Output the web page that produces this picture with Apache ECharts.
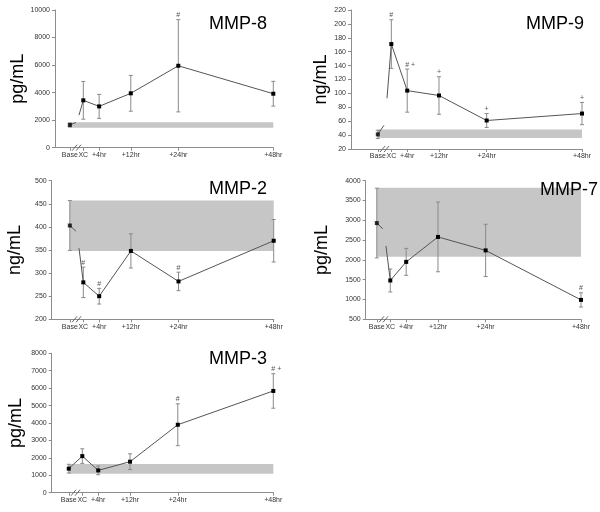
<!DOCTYPE html>
<html><head><meta charset="utf-8">
<script src="https://cdn.jsdelivr.net/npm/echarts@6/dist/echarts.min.js"></script>
<style>html,body{margin:0;padding:0;background:#fff}#c{width:600px;height:512px}</style>
</head><body><div id="c"></div>
<script>
// ---- data ----
const xLabels = ['Base', 'XC', '+4hr', '+12hr', '+24hr', '+48hr'];
const timePoints = [-3.4, 0, 4, 12, 24, 48];

const panelNames = ['MMP-8', 'MMP-9', 'MMP-2', 'MMP-7', 'MMP-3'];
const panelUnits = ['pg/mL', 'ng/mL', 'ng/mL', 'pg/mL', 'pg/mL'];

const mmp8Mean = [1650, 3440, 3000, 3950, 5950, 3920];
const mmp8Err  = [150, 1370, 870, 1300, 3350, 900];
const mmp8Sig  = ['', '', '', '', '#', ''];
const mmp8Band = [1450, 1850];

const mmp9Mean = [41, 171, 104, 97, 61, 71];
const mmp9Err  = [6, 35, 31, 27, 10, 16];
const mmp9Sig  = ['', '#', '# +', '+', '+', '+'];
const mmp9Band = [36, 48];

const mmp2Mean = [403, 280, 250, 348, 282, 370];
const mmp2Err  = [54, 33, 17, 37, 20, 46];
const mmp2Sig  = ['', '#', '#', '', '#', ''];
const mmp2Band = [348, 457];

const mmp7Mean = [2930, 1480, 1950, 2580, 2240, 990];
const mmp7Err  = [880, 290, 340, 880, 660, 180];
const mmp7Sig  = ['', '', '', '', '', '#'];
const mmp7Band = [2080, 3820];

const mmp3Mean = [1380, 2100, 1280, 1780, 3900, 5840];
const mmp3Err  = [250, 420, 250, 450, 1200, 990];
const mmp3Sig  = ['', '', '', '', '#', '# +'];
const mmp3Band = [1090, 1650];

const yTicks8 = [0, 10000, 2000];
const yTicks9 = [20, 220, 20];
const yTicks2 = [200, 500, 50];
const yTicks7 = [500, 4000, 500];
const yTicks3 = [0, 8000, 1000];

// ---- layout ----
const panels = [
  {mean: mmp8Mean, err: mmp8Err, sig: mmp8Sig, band: mmp8Band, yt: yTicks8, broken: true,
   grid: {left: 55, top: 10, width: 218.3, height: 137.7}, xmin: -7.15, nameGap: 28, title: [209, 15]},
  {mean: mmp9Mean, err: mmp9Err, sig: mmp9Sig, band: mmp9Band, yt: yTicks9, broken: true,
   grid: {left: 351, top: 10, width: 231, height: 139}, xmin: -10.15, nameGap: 15, title: [526, 15]},
  {mean: mmp2Mean, err: mmp2Err, sig: mmp2Sig, band: mmp2Band, yt: yTicks2, broken: true,
   grid: {left: 51.7, top: 180.7, width: 222, height: 138.6}, xmin: -7.97, nameGap: 27.5, title: [209, 180.5]},
  {mean: mmp7Mean, err: mmp7Err, sig: mmp7Sig, band: mmp7Band, yt: yTicks7, broken: true,
   grid: {left: 365.7, top: 180.7, width: 215.3, height: 138.6}, xmin: -6.19, nameGap: 34.5, title: [540, 181.5]},
  {mean: mmp3Mean, err: mmp3Err, sig: mmp3Sig, band: mmp3Band, yt: yTicks3, broken: false,
   grid: {left: 51.7, top: 353.3, width: 221.6, height: 139.4}, xmin: -7.69, nameGap: 26.5, title: [209, 350.5]}
];

const FONT = "'Liberation Sans', Arial, sans-serif";
const AXIS_COLOR = '#8c8c8c';
const grids = [], xAxes = [], yAxes = [], series = [], titles = [];

panels.forEach((p, i) => {
  grids.push(Object.assign({containLabel: false}, p.grid));
  titles.push({text: panelNames[i], left: p.title[0], top: p.title[1],
    textStyle: {fontFamily: FONT, fontSize: 18, fontWeight: 'normal', color: '#000', lineHeight: 18}, padding: 0});
  xAxes.push({
    type: 'value', gridIndex: i, min: p.xmin, max: 48,
    axisLine: {show: true, onZero: false, lineStyle: {color: AXIS_COLOR, width: 1}},
    axisTick: {show: true, length: 3, customValues: timePoints, lineStyle: {color: AXIS_COLOR}},
    axisLabel: {show: true, customValues: timePoints, fontFamily: FONT, fontSize: 7, color: '#333', margin: 4,
      formatter: v => { const k = timePoints.findIndex(t => Math.abs(t - v) < 1e-6); return k >= 0 ? xLabels[k] : ''; }},
    splitLine: {show: false}
  });
  yAxes.push({
    type: 'value', gridIndex: i, min: p.yt[0], max: p.yt[1], interval: p.yt[2],
    name: panelUnits[i], nameLocation: 'middle', nameRotate: 90, nameGap: p.nameGap,
    nameTextStyle: {fontFamily: FONT, fontSize: 18, color: '#000'},
    axisLine: {show: true, onZero: false, lineStyle: {color: AXIS_COLOR, width: 1}},
    axisTick: {show: true, length: 3, lineStyle: {color: AXIS_COLOR}},
    axisLabel: {fontFamily: FONT, fontSize: 7, color: '#333', margin: 5, formatter: v => String(v)},
    splitLine: {show: false}
  });

  // reference band
  series.push({
    type: 'custom', xAxisIndex: i, yAxisIndex: i, z: 1, silent: true,
    data: [[timePoints[0], p.band[0], timePoints[5], p.band[1]]],
    renderItem: (params, api) => {
      const a = api.coord([api.value(0), api.value(3)]);
      const b = api.coord([api.value(2), api.value(1)]);
      return {type: 'rect', shape: {x: a[0], y: a[1], width: b[0] - a[0], height: b[1] - a[1]},
        style: {fill: '#c6c6c6'}};
    }
  });

  // error bars
  const errData = timePoints.map((t, k) => [t, p.mean[k], p.err[k]]);
  series.push({
    type: 'custom', xAxisIndex: i, yAxisIndex: i, z: 2, silent: true, clip: false,
    data: errData,
    renderItem: (params, api) => {
      const x = api.value(0), m = api.value(1), e = api.value(2);
      const t = api.coord([x, m + e]), b = api.coord([x, m - e]);
      const cw = 2;
      const st = {stroke: '#8a8a8a', lineWidth: 1};
      return {type: 'group', children: [
        {type: 'line', shape: {x1: t[0], y1: t[1], x2: b[0], y2: b[1]}, style: st},
        {type: 'line', shape: {x1: t[0] - cw, y1: t[1], x2: t[0] + cw, y2: t[1]}, style: st},
        {type: 'line', shape: {x1: b[0] - cw, y1: b[1], x2: b[0] + cw, y2: b[1]}, style: st}
      ]};
    }
  });

  // significance markers
  series.push({
    type: 'custom', xAxisIndex: i, yAxisIndex: i, z: 5, silent: true, clip: false,
    data: errData,
    renderItem: (params, api) => {
      const s = p.sig[params.dataIndex];
      if (!s) return null;
      const t = api.coord([api.value(0), api.value(1) + api.value(2)]);
      return {type: 'text', x: t[0] + (s.length > 1 ? 3 : 0), y: t[1] - 1,
        style: {text: s, fontFamily: FONT, fontSize: 7, fill: '#555', align: 'center', verticalAlign: 'bottom'}};
    }
  });

  if (p.broken) {
    series.push({
      type: 'scatter', xAxisIndex: i, yAxisIndex: i, z: 4, silent: true,
      symbol: 'rect', symbolSize: 4, itemStyle: {color: '#000'},
      data: [[timePoints[0], p.mean[0]]]
    });
    series.push({
      type: 'custom', xAxisIndex: i, yAxisIndex: i, z: 3, silent: true, clip: false,
      data: [[timePoints[0], p.mean[0], timePoints[1], p.mean[1]]],
      renderItem: (params, api) => {
        const a = api.coord([api.value(0), api.value(1)]);
        const b = api.coord([api.value(2), api.value(3)]);
        const dx = b[0] - a[0], dy = b[1] - a[1];
        const st = {stroke: '#555', lineWidth: 1};
        return {type: 'group', children: [
          {type: 'line', shape: {x1: a[0], y1: a[1], x2: a[0] + 0.45 * dx, y2: a[1] + 0.1 * dy}, style: st},
          {type: 'line', shape: {x1: a[0] + 0.68 * dx, y1: a[1] + 0.4 * dy, x2: b[0], y2: b[1]}, style: st}
        ]};
      }
    });
    series.push({
      type: 'line', xAxisIndex: i, yAxisIndex: i, z: 4, silent: true,
      symbol: 'rect', symbolSize: 4, showSymbol: true,
      itemStyle: {color: '#000'}, lineStyle: {color: '#555', width: 1},
      data: timePoints.slice(1).map((t, k) => [t, p.mean[k + 1]])
    });
  } else {
    series.push({
      type: 'line', xAxisIndex: i, yAxisIndex: i, z: 4, silent: true,
      symbol: 'rect', symbolSize: 4, showSymbol: true,
      itemStyle: {color: '#000'}, lineStyle: {color: '#555', width: 1},
      data: timePoints.map((t, k) => [t, p.mean[k]])
    });
  }

  // axis break marks
  series.push({
    type: 'custom', xAxisIndex: i, yAxisIndex: i, z: 6, silent: true, clip: false,
    data: [[(timePoints[0] + timePoints[1]) / 2, p.yt[0]]],
    renderItem: (params, api) => {
      const c = api.coord([api.value(0), api.value(1)]);
      const st = {stroke: '#666', lineWidth: 1};
      return {type: 'group', children: [-2, 2].map(o => ({
        type: 'line', shape: {x1: c[0] + o - 2.5, y1: c[1] + 3, x2: c[0] + o + 2.5, y2: c[1] - 3}, style: st
      }))};
    }
  });
});

const chart = echarts.init(document.getElementById('c'), null, {renderer: 'canvas'});
chart.setOption({
  animation: false,
  backgroundColor: '#fff',
  title: titles,
  grid: grids,
  xAxis: xAxes,
  yAxis: yAxes,
  series: series
});
</script>
</body></html>
